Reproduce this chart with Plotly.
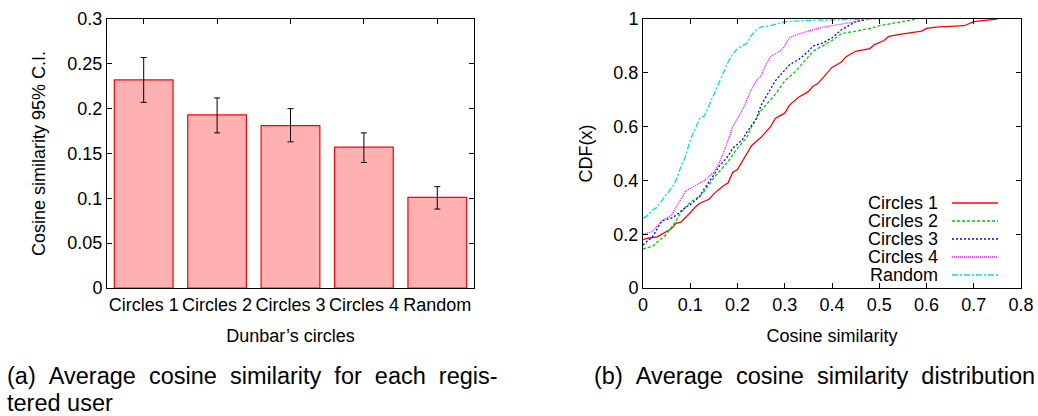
import plotly.graph_objects as go

# ---------------- data ----------------
categories = ["Circles 1", "Circles 2", "Circles 3", "Circles 4", "Random"]
mean_sim = [0.232, 0.193, 0.181, 0.157, 0.101]
ci_low = [0.207, 0.173, 0.163, 0.140, 0.088]
ci_high = [0.257, 0.212, 0.200, 0.173, 0.113]

c1_x = [0.0, 0.01, 0.03, 0.04, 0.05, 0.06, 0.07, 0.08, 0.10, 0.11, 0.12, 0.14, 0.15, 0.17, 0.18, 0.19, 0.20, 0.21, 0.22, 0.23, 0.25, 0.26, 0.27, 0.28, 0.30, 0.31, 0.33, 0.35, 0.36, 0.37, 0.38, 0.40, 0.42, 0.43, 0.45, 0.48, 0.49, 0.51, 0.52, 0.55, 0.59, 0.60, 0.62, 0.68, 0.70, 0.72, 0.75]
c1_y = [0.18, 0.185, 0.19, 0.20, 0.21, 0.22, 0.24, 0.245, 0.28, 0.30, 0.315, 0.33, 0.35, 0.38, 0.39, 0.43, 0.44, 0.47, 0.50, 0.53, 0.56, 0.58, 0.60, 0.63, 0.65, 0.68, 0.71, 0.73, 0.75, 0.76, 0.78, 0.82, 0.84, 0.86, 0.88, 0.89, 0.905, 0.92, 0.935, 0.945, 0.955, 0.965, 0.97, 0.975, 0.99, 0.995, 1.0]

c2_x = [0.0, 0.02, 0.03, 0.05, 0.07, 0.08, 0.10, 0.12, 0.13, 0.15, 0.17, 0.18, 0.20, 0.22, 0.23, 0.25, 0.27, 0.28, 0.30, 0.32, 0.33, 0.35, 0.36, 0.38, 0.40, 0.42, 0.45, 0.48, 0.50, 0.53, 0.55, 0.58]
c2_y = [0.145, 0.155, 0.17, 0.20, 0.25, 0.28, 0.32, 0.34, 0.36, 0.41, 0.45, 0.47, 0.52, 0.56, 0.60, 0.66, 0.70, 0.72, 0.77, 0.80, 0.82, 0.86, 0.88, 0.90, 0.92, 0.945, 0.955, 0.965, 0.975, 0.985, 0.99, 1.0]

c3_x = [0.0, 0.01, 0.02, 0.03, 0.04, 0.06, 0.07, 0.09, 0.10, 0.12, 0.13, 0.15, 0.16, 0.18, 0.19, 0.21, 0.22, 0.24, 0.25, 0.27, 0.28, 0.30, 0.31, 0.33, 0.35, 0.36, 0.38, 0.40, 0.42, 0.44, 0.45, 0.48]
c3_y = [0.16, 0.175, 0.19, 0.22, 0.25, 0.26, 0.27, 0.30, 0.31, 0.34, 0.37, 0.42, 0.45, 0.49, 0.52, 0.55, 0.58, 0.63, 0.68, 0.74, 0.77, 0.81, 0.83, 0.85, 0.88, 0.90, 0.91, 0.93, 0.96, 0.98, 0.99, 1.0]

c4_x = [0.0, 0.01, 0.02, 0.04, 0.05, 0.06, 0.07, 0.08, 0.09, 0.11, 0.12, 0.13, 0.15, 0.16, 0.17, 0.18, 0.19, 0.20, 0.21, 0.22, 0.23, 0.24, 0.25, 0.26, 0.27, 0.28, 0.29, 0.30, 0.31, 0.33, 0.34, 0.36, 0.38, 0.40, 0.42, 0.45, 0.47]
c4_y = [0.20, 0.205, 0.21, 0.25, 0.26, 0.27, 0.30, 0.33, 0.36, 0.38, 0.39, 0.40, 0.43, 0.46, 0.50, 0.55, 0.60, 0.63, 0.66, 0.70, 0.74, 0.77, 0.79, 0.83, 0.86, 0.87, 0.88, 0.90, 0.93, 0.945, 0.95, 0.96, 0.97, 0.975, 0.98, 0.99, 1.0]

rnd_x = [0.0, 0.01, 0.02, 0.03, 0.05, 0.06, 0.07, 0.08, 0.09, 0.10, 0.11, 0.12, 0.13, 0.14, 0.15, 0.16, 0.17, 0.18, 0.19, 0.20, 0.21, 0.22, 0.23, 0.24, 0.25, 0.27, 0.29, 0.30, 0.35, 0.42, 0.50]
rnd_y = [0.26, 0.27, 0.29, 0.30, 0.35, 0.37, 0.40, 0.45, 0.49, 0.55, 0.59, 0.63, 0.64, 0.68, 0.72, 0.76, 0.80, 0.84, 0.87, 0.89, 0.90, 0.91, 0.94, 0.96, 0.97, 0.975, 0.985, 0.99, 0.995, 0.998, 1.0]

series_names = ["Circles 1", "Circles 2", "Circles 3", "Circles 4", "Random"]
series_x = [c1_x, c2_x, c3_x, c4_x, rnd_x]
series_y = [c1_y, c2_y, c3_y, c4_y, rnd_y]
series_colors = ["#ff0000", "#00cc00", "#0000ff", "#ff00ff", "#00e0e0"]
series_dash = ["solid", "3px,2px", "2px,2px", "1px,1px", "6px,2px,2px,2px"]

FONT = "Liberation Sans, Arial, Helvetica, sans-serif"
TICK_SIZE = 18
TITLE_SIZE = 18
CAP_SIZE = 23.5

# ---------------- figure ----------------
W, H = 1038, 416
L, R, T, B = 107, 17, 19, 128
PW = W - L - R
PH = H - T - B

def px_x(p):
    return (p - L) / PW

def px_y(p):
    return (H - B - p) / PH

fig = go.Figure()

fig.add_trace(go.Bar(
    x=categories, y=mean_sim, width=0.8,
    marker=dict(color="#ffb0b0", line=dict(color="#ff0000", width=1.2)),
    error_y=dict(type="data", symmetric=False,
                 array=[h - m for h, m in zip(ci_high, mean_sim)],
                 arrayminus=[m - l for m, l in zip(mean_sim, ci_low)],
                 color="#000000", thickness=1, width=3),
    xaxis="x", yaxis="y", showlegend=False,
))

for name, xs, ys, col, dash in zip(series_names, series_x, series_y, series_colors, series_dash):
    fig.add_trace(go.Scatter(
        x=xs, y=ys, mode="lines", name=name,
        line=dict(color=col, width=1.3, dash=dash),
        xaxis="x2", yaxis="y2", showlegend=False,
    ))

axis_common = dict(
    showgrid=False, zeroline=False, showline=True, linecolor="black", linewidth=1,
    mirror="allticks", ticks="inside", ticklen=5, tickcolor="black", tickwidth=1,
    tickfont=dict(family=FONT, size=TICK_SIZE, color="black"), automargin=False,
    ticklabeloverflow="allow",
)

left_end = px_x(474)
right_start = px_x(643)

fig.update_layout(
    width=W, height=H,
    margin=dict(l=L, r=R, t=T, b=B),
    paper_bgcolor="white", plot_bgcolor="white",
    font=dict(family=FONT, color="black"),
    xaxis=dict(axis_common, domain=[0, left_end], range=[-0.5, 4.5], type="category",
               layer="below traces",
               title=dict(text="Dunbar\u2019s circles", font=dict(family=FONT, size=TITLE_SIZE), standoff=15)),
    yaxis=dict(axis_common, domain=[0, 1], range=[0, 0.3], dtick=0.05, anchor="x",
               title=dict(text="Cosine similarity 95% C.I.", font=dict(family=FONT, size=TITLE_SIZE), standoff=17)),
    xaxis2=dict(axis_common, domain=[right_start, 1], range=[0, 0.8], dtick=0.1, anchor="y2",
                title=dict(text="Cosine similarity", font=dict(family=FONT, size=TITLE_SIZE), standoff=15)),
    yaxis2=dict(axis_common, domain=[0, 1], range=[0, 1], dtick=0.2, anchor="x2",
                title=dict(text="CDF(x)", font=dict(family=FONT, size=TITLE_SIZE), standoff=16)),
)

# manual legend (text left, sample line right), gnuplot style
leg_rows = [203, 221, 239, 257, 275]
for name, col, dash, row in zip(series_names, series_colors, series_dash, leg_rows):
    fig.add_annotation(
        xref="paper", yref="paper", x=px_x(940), y=px_y(row),
        xanchor="right", yanchor="middle", text=name, showarrow=False,
        font=dict(family=FONT, size=TICK_SIZE, color="black"),
    )
    fig.add_shape(
        type="line", xref="paper", yref="paper",
        x0=px_x(952), x1=px_x(998), y0=px_y(row), y1=px_y(row),
        line=dict(color=col, width=1.3, dash=dash),
    )

# captions
NB = "\u00a0"
GAP = NB * 2
cap_a1 = GAP.join(["(a)", "Average", "cosine", "similarity", "for", "each", "regis-"])
cap_a2 = "tered user"
cap_b = GAP.join(["(b)", "Average", "cosine", "similarity", "distribution"])
for txt, xp, yp in [(cap_a1, 5, 376), (cap_a2, 5, 403), (cap_b, 592, 376)]:
    fig.add_annotation(
        xref="paper", yref="paper", x=px_x(xp), y=px_y(yp),
        xanchor="left", yanchor="middle", text=txt, showarrow=False,
        font=dict(family=FONT, size=CAP_SIZE, color="black"),
    )

fig.write_html(
    "out.html",
    config={"displayModeBar": False},
    post_script="document.body.style.margin='0';document.body.style.overflow='hidden';",
)
